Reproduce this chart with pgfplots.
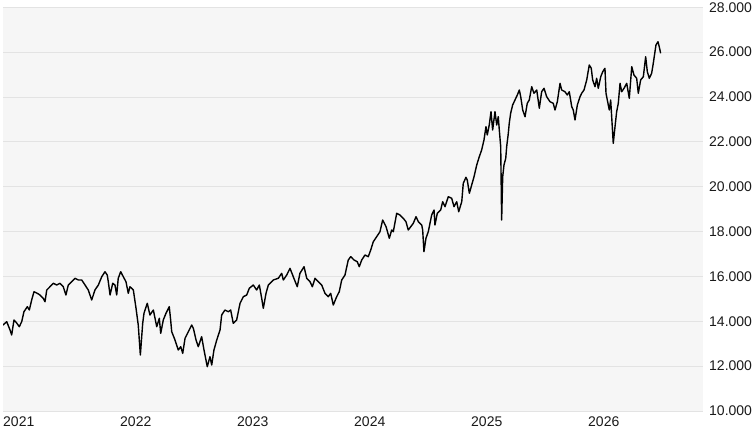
\documentclass[border=0pt]{standalone}
\usepackage{fontspec}
\setmainfont{Liberation Sans}
\usepackage{pgfplots}
\pgfplotsset{compat=1.18}
\definecolor{bgc}{HTML}{F6F6F6}
\definecolor{gridc}{HTML}{E3E3E3}
\definecolor{txt}{HTML}{1A1A1A}
\begin{document}
\fontsize{14bp}{16bp}\selectfont
\begin{tikzpicture}
\path[use as bounding box] (0,0) rectangle (753bp,430bp);
\begin{axis}[
  at={(3bp,19bp)}, anchor=south west,
  scale only axis, width=700bp, height=403.7bp,
  xmin=2021, xmax=2026.983, ymin=10000, ymax=28000,
  axis background/.style={fill=bgc},
  axis line style={draw=none},
  major tick length=0pt,
  ymajorgrids, grid style={gridc, line width=0.9bp},
  ytick={10000,12000,...,28000},
  scaled y ticks=false,
  yticklabel pos=right,
  /pgf/number format/assume math mode=true,
  /pgf/number format/.cd, fixed, precision=0, 1000 sep={.}, min exponent for 1000 sep=3,
  /pgfplots/.cd,
  yticklabel style={anchor=west, inner sep=0pt, xshift=6bp, text=txt, font=\fontsize{14bp}{16bp}\selectfont},
  xtick={2021,2022,2023,2024,2025,2026},
  xticklabels={2021,2022,2023,2024,2025,2026},
  xticklabel style={anchor=north west, inner sep=0pt, yshift=-5.7bp, text=txt, font=\fontsize{14bp}{16bp}\selectfont},
]
\addplot[black, line width=1.4bp, line join=round, no marks] coordinates {
(2021.000,13834) (2021.032,13982) (2021.060,13611) (2021.074,13388) (2021.094,14057)
(2021.117,13924) (2021.139,13759) (2021.160,13982) (2021.179,14427) (2021.208,14651)
(2021.225,14503) (2021.245,14949) (2021.265,15319) (2021.293,15248) (2021.316,15172)
(2021.344,15025) (2021.359,14873) (2021.374,15395) (2021.402,15542) (2021.430,15694)
(2021.459,15618) (2021.487,15694) (2021.515,15542) (2021.538,15172) (2021.558,15618)
(2021.587,15765) (2021.615,15917) (2021.644,15841) (2021.673,15841) (2021.701,15618)
(2021.729,15395) (2021.758,14949) (2021.786,15395) (2021.815,15618) (2021.844,15988)
(2021.872,16211) (2021.891,16063) (2021.900,15765) (2021.915,15172) (2021.938,15694)
(2021.957,15618) (2021.972,15172) (2021.985,15917) (2022.006,16211) (2022.028,15988)
(2022.051,15765) (2022.071,15248) (2022.085,15542) (2022.114,15395) (2022.137,14579)
(2022.156,13834) (2022.174,12497) (2022.194,13910) (2022.205,14356) (2022.233,14802)
(2022.256,14280) (2022.285,14503) (2022.314,13759) (2022.336,14133) (2022.348,13464)
(2022.370,14057) (2022.393,14356) (2022.421,14651) (2022.433,14057) (2022.442,13536)
(2022.470,13166) (2022.498,12720) (2022.519,12867) (2022.536,12572) (2022.556,13241)
(2022.584,13536) (2022.613,13834) (2022.627,13687) (2022.650,13166) (2022.669,12867)
(2022.698,13313) (2022.718,12720) (2022.746,11975) (2022.769,12421) (2022.784,12051)
(2022.803,12720) (2022.827,13166) (2022.855,13611) (2022.869,14280) (2022.897,14503)
(2022.926,14427) (2022.946,14503) (2022.968,13910) (2022.997,14057) (2023.026,14802)
(2023.054,15096) (2023.083,15172) (2023.105,15470) (2023.139,15618) (2023.168,15395)
(2023.191,15618) (2023.211,15025) (2023.225,14579) (2023.248,15248) (2023.268,15618)
(2023.310,15841) (2023.353,15917) (2023.382,16139) (2023.396,15841) (2023.425,16063)
(2023.453,16362) (2023.481,15988) (2023.515,15542) (2023.538,16139) (2023.573,16434)
(2023.596,15917) (2023.624,15765) (2023.644,15542) (2023.667,15917) (2023.695,15765)
(2023.724,15618) (2023.752,15248) (2023.780,15096) (2023.801,15248) (2023.823,14726)
(2023.852,15096) (2023.874,15319) (2023.895,15841) (2023.923,16063) (2023.951,16733)
(2023.972,16880) (2024.000,16733) (2024.028,16657) (2024.045,16434) (2024.066,16733)
(2024.094,16956) (2024.122,16880) (2024.143,17179) (2024.165,17549) (2024.194,17772)
(2024.222,17995) (2024.245,18516) (2024.274,18218) (2024.302,17700) (2024.322,18070)
(2024.336,17995) (2024.365,18815) (2024.393,18739) (2024.421,18592) (2024.444,18441)
(2024.464,18070) (2024.485,18218) (2024.507,18369) (2024.530,18663) (2024.550,18441)
(2024.579,18293) (2024.587,18070) (2024.598,17103) (2024.615,17700) (2024.635,17995)
(2024.664,18739) (2024.684,18962) (2024.692,18293) (2024.712,18815) (2024.741,18962)
(2024.758,19333) (2024.778,19109) (2024.806,19555) (2024.835,19484) (2024.855,19109)
(2024.878,19333) (2024.895,18886) (2024.921,19333) (2024.934,20152) (2024.957,20420)
(2024.968,20300) (2024.986,19707) (2025.006,20077) (2025.026,20447) (2025.049,20969)
(2025.071,21339) (2025.091,21637) (2025.111,22083) (2025.128,22676) (2025.139,22306)
(2025.156,22752) (2025.171,23345) (2025.185,22529) (2025.205,23345) (2025.220,22752)
(2025.233,23122) (2025.242,22529) (2025.254,21784) (2025.262,18516) (2025.271,20447)
(2025.282,20969) (2025.297,21267) (2025.305,21784) (2025.319,22382) (2025.327,22828)
(2025.339,23274) (2025.356,23644) (2025.376,23867) (2025.396,24090) (2025.413,24313)
(2025.425,24014) (2025.442,23421) (2025.462,23122) (2025.481,23720) (2025.498,23867)
(2025.519,24460) (2025.538,24165) (2025.562,24313) (2025.584,23497) (2025.604,24237)
(2025.624,24388) (2025.647,24014) (2025.675,23791) (2025.703,23720) (2025.718,23421)
(2025.738,23791) (2025.761,24611) (2025.775,24313) (2025.803,24237) (2025.823,24090)
(2025.840,24237) (2025.861,23568) (2025.874,23421) (2025.889,22975) (2025.909,23644)
(2025.932,24014) (2025.946,24165) (2025.966,24313) (2025.989,24759) (2026.011,25427)
(2026.028,25280) (2026.040,24759) (2026.060,24460) (2026.074,24834) (2026.088,24388)
(2026.109,24906) (2026.126,25129) (2026.145,25280) (2026.154,24165) (2026.182,23421)
(2026.194,23867) (2026.205,22899) (2026.216,21936) (2026.231,22676) (2026.245,23345)
(2026.259,23720) (2026.274,24611) (2026.288,24237) (2026.308,24388) (2026.331,24611)
(2026.353,23942) (2026.374,25351) (2026.393,24981) (2026.416,24834) (2026.430,24165)
(2026.450,24759) (2026.473,24906) (2026.493,25797) (2026.507,25129) (2026.524,24834)
(2026.544,25057) (2026.558,25503) (2026.581,26319) (2026.598,26466) (2026.609,26243)
(2026.621,25949)
};
\end{axis}
\end{tikzpicture}
\end{document}
